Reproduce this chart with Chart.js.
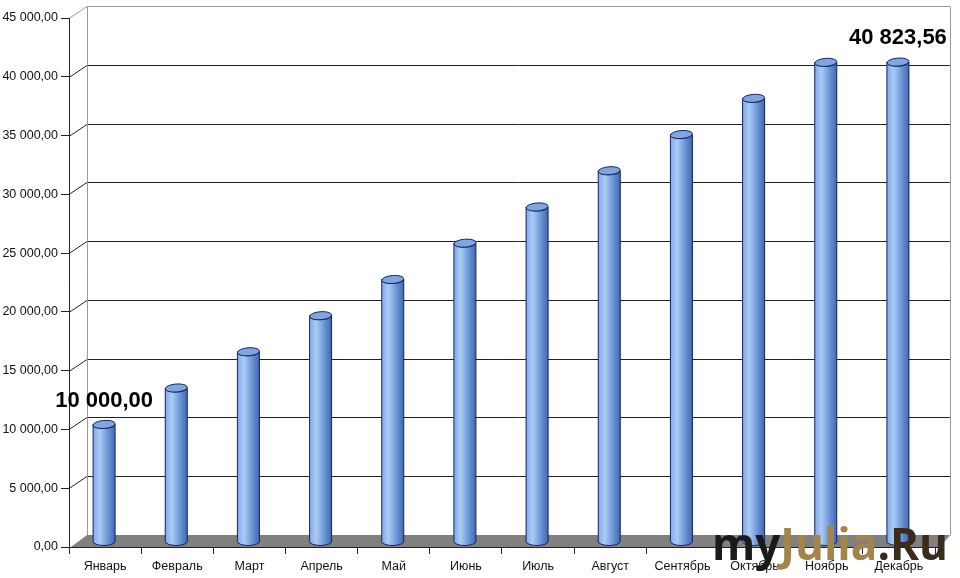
<!DOCTYPE html>
<html>
<head>
<meta charset="utf-8">
<script src="https://cdn.jsdelivr.net/npm/chart.js@4/dist/chart.umd.min.js"></script>
<style>
html,body{margin:0;padding:0;background:#fff;}
#wrap{width:960px;height:578px;position:relative;}
</style>
</head>
<body>
<div id="wrap"><canvas id="c" width="960" height="578"></canvas></div>
<script>
const categories = ['Январь','Февраль','Март','Апрель','Май','Июнь','Июль','Август','Сентябрь','Октябрь','Ноябрь','Декабрь'];
const values = [10000, 13100, 16180, 19250, 22330, 25420, 28500, 31580, 34660, 37740, 40800, 40823.56];
const labeledPoints = [0, 11];
const yMin = 0, yMax = 45000, yStep = 5000;

function fmt(n){
  const s = n.toFixed(2).split('.');
  return s[0].replace(/\B(?=(\d{3})+(?!\d))/g, ' ') + ',' + s[1];
}

const DEPTH_X = 18, DEPTH_Y = -12;   // back wall offset
const MID_X = -1, MID_Y = -5;         // bars sit at mid depth

const wallPlugin = {
  id: 'wall',
  beforeDatasetsDraw(chart){
    const ctx = chart.ctx, y = chart.scales.y, a = chart.chartArea;
    const L = a.left, R = a.right + 15, B = y.getPixelForValue(yMin);
    ctx.save();
    ctx.fillStyle = '#808080';
    ctx.beginPath();
    ctx.moveTo(L + 2, B);
    ctx.lineTo(L + DEPTH_X, B + DEPTH_Y);
    ctx.lineTo(R, B + DEPTH_Y);
    ctx.lineTo(a.right + 4, B);
    ctx.closePath();
    ctx.fill();
    ctx.lineWidth = 1;
    y.ticks.forEach(t => {
      const py = Math.round(y.getPixelForValue(t.value)) + 0.5;
      if (t.value === yMin) return;
      ctx.strokeStyle = t.value === yMax ? '#9a9a9a' : '#222';
      ctx.beginPath();
      ctx.moveTo(L, py);
      ctx.lineTo(L + DEPTH_X, py + DEPTH_Y);
      ctx.lineTo(R, py + DEPTH_Y);
      ctx.stroke();
    });
    const top = Math.round(y.getPixelForValue(yMax)) + 0.5 + DEPTH_Y;
    ctx.strokeStyle = '#9a9a9a';
    ctx.beginPath();
    ctx.moveTo(L + DEPTH_X + 0.5, top);
    ctx.lineTo(L + DEPTH_X + 0.5, B + DEPTH_Y);
    ctx.moveTo(R + 0.5, top);
    ctx.lineTo(R + 0.5, B + DEPTH_Y);
    ctx.lineTo(a.right + 4, B);
    ctx.stroke();
    ctx.strokeStyle = '#222';
    ctx.beginPath();
    ctx.moveTo(L + 0.5, y.getPixelForValue(yMax));
    ctx.lineTo(L + 0.5, B + 0.5);
    ctx.lineTo(a.right + 4, B + 0.5);
    ctx.stroke();
    ctx.restore();
  },
  afterDatasetsDraw(chart){
    const ctx = chart.ctx;
    const meta = chart.getDatasetMeta(0);
    ctx.save();
    ctx.translate(MID_X, MID_Y);
    meta.data.forEach((bar, i) => {
      const p = bar.getProps(['x','y','base','width'], true);
      const w = p.width, hw = w / 2, x0 = p.x - hw, x1 = p.x + hw;
      const ry = 4;
      const g = ctx.createLinearGradient(x0, 0, x1, 0);
      g.addColorStop(0, '#82aae4');
      g.addColorStop(0.3, '#aacbf6');
      g.addColorStop(0.65, '#6f98d8');
      g.addColorStop(1, '#3f68b2');
      ctx.fillStyle = g;
      ctx.strokeStyle = '#14245c';
      ctx.lineWidth = 1;
      ctx.beginPath();
      ctx.moveTo(x0, p.y);
      ctx.lineTo(x0, p.base);
      ctx.ellipse(p.x, p.base, hw, ry, 0, Math.PI, 0, true);
      ctx.lineTo(x1, p.y);
      ctx.ellipse(p.x, p.y, hw, ry, 0, 0, Math.PI, false);
      ctx.closePath();
      ctx.fill();
      ctx.stroke();
      ctx.fillStyle = '#7ea6e0';
      ctx.beginPath();
      ctx.ellipse(p.x, p.y, hw, ry, -0.08, 0, Math.PI * 2);
      ctx.fill();
      ctx.stroke();
    });
    ctx.fillStyle = '#000';
    ctx.font = 'bold 22px "Liberation Sans", Arial, sans-serif';
    ctx.textAlign = 'center';
    ctx.textBaseline = 'middle';
    labeledPoints.forEach(i => {
      const bar = meta.data[i];
      ctx.fillText(fmt(values[i]), bar.x, bar.y - 24);
    });
    ctx.restore();
  },
  afterDraw(chart){
    const ctx = chart.ctx;
    ctx.save();
    const parts = [['my', '#1a1a1a'], ['Julia', '#a3844a'], ['.Ru', '#3a2c1c']];
    ctx.font = 'bold 44px "Open Sans", sans-serif';
    const total = parts.reduce((s, p) => s + ctx.measureText(p[0]).width, 0);
    const sx = 236 / total;
    ctx.translate(712, 560);
    ctx.scale(sx, 1);
    ctx.textBaseline = 'alphabetic';
    let x = 0;
    parts.forEach(p => {
      ctx.fillStyle = p[1];
      ctx.fillText(p[0], x, 0);
      x += ctx.measureText(p[0]).width;
    });
    ctx.restore();
  }
};

new Chart(document.getElementById('c'), {
  type: 'bar',
  data: {
    labels: categories,
    datasets: [{
      data: values,
      backgroundColor: 'rgba(0,0,0,0)',
      borderWidth: 0,
      barThickness: 22
    }]
  },
  options: {
    responsive: false,
    animation: false,
    devicePixelRatio: 1,
    layout: { padding: { left: 0, right: 25, top: 18, bottom: 0 } },
    plugins: { legend: { display: false }, tooltip: { enabled: false } },
    scales: {
      x: {
        grid: { display: true, offset: true, drawOnChartArea: false, drawTicks: true, tickLength: 7, color: '#222' },
        border: { display: false },
        ticks: { color: '#111', font: { family: '"Liberation Sans", Arial, sans-serif', size: 12.5 }, padding: 5, maxRotation: 0, autoSkip: false },
        afterFit(s){ s.height = 31; }
      },
      y: {
        min: yMin, max: yMax,
        grid: { display: true, drawOnChartArea: false, drawTicks: true, tickLength: 8, color: '#222' },
        border: { display: false },
        ticks: { stepSize: yStep, color: '#111', font: { family: '"Liberation Sans", Arial, sans-serif', size: 12.5 }, padding: 3, callback: v => fmt(v) },
        afterFit(s){ s.width = 69; }
      }
    }
  },
  plugins: [wallPlugin]
});
</script>
</body>
</html>
